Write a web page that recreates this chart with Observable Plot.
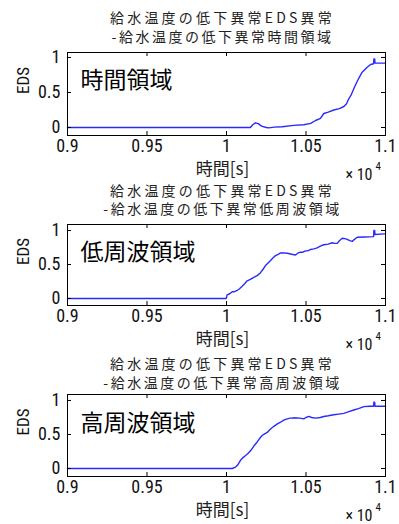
<!DOCTYPE html>
<html><head><meta charset="utf-8">
<script src="https://cdn.jsdelivr.net/npm/d3@7"></script>
<script src="https://cdn.jsdelivr.net/npm/@observablehq/plot@0.6"></script>
<style>
body{margin:0;background:#fff;}
#chart svg{display:block;}
</style>
</head><body><div id="chart"></div>
<script>
// ---- data ----
const timeTicks = [9000, 9500, 10000, 10500, 11000];
const timeTickLabels = ["0.9", "0.95", "1", "1.05", "1.1"];
const edsTicks = [0, 0.5, 1];
const edsTickLabels = ["0", "0.5", "1"];
const titleLine1 = "給水温度の低下異常EDS異常";
const titleLines2 = ["-給水温度の低下異常時間領域", "-給水温度の低下異常低周波領域", "-給水温度の低下異常高周波領域"];
const insetLabels = ["時間領域", "低周波領域", "高周波領域"];
const yLabel = "EDS";
const xLabel = "時間[s]";
const expLabel = "× 10";
const expPower = "4";

const timeA = [9000,10150,10165,10182,10200,10220,10250,10266,10300,10350,10423,10486,10530,10560,10591,10612,10640,10675,10710,10738,10755,10769,10785,10800,10822,10853,10885,10906,10925,10927,10932,10934,11000];
const edsA  = [0,0,0.04,0.067,0.055,0.02,0.0,-0.005,0.005,0.01,0.03,0.04,0.06,0.1,0.13,0.2,0.22,0.25,0.27,0.30,0.34,0.41,0.47,0.55,0.66,0.79,0.86,0.90,0.91,0.98,0.98,0.92,0.92];

const timeB = [9000,9998,10004,10020,10036,10050,10067,10080,10099,10115,10130,10150,10172,10195,10214,10230,10245,10260,10277,10293,10308,10325,10340,10360,10382,10410,10434,10450,10465,10480,10497,10510,10528,10550,10570,10590,10612,10640,10665,10680,10696,10710,10728,10745,10759,10775,10791,10805,10822,10870,10925,10927,10932,10934,10990,11000];
const edsB  = [0,0,0.054,0.07,0.10,0.10,0.118,0.14,0.18,0.22,0.26,0.28,0.31,0.34,0.38,0.43,0.485,0.52,0.56,0.60,0.63,0.65,0.67,0.67,0.665,0.65,0.64,0.67,0.68,0.68,0.70,0.70,0.72,0.73,0.745,0.77,0.79,0.80,0.82,0.81,0.81,0.85,0.885,0.88,0.87,0.85,0.84,0.87,0.90,0.905,0.91,1.0,1.0,0.94,0.95,0.95];

const timeC = [9000,10036,10057,10070,10088,10104,10120,10135,10151,10172,10193,10208,10224,10240,10256,10277,10298,10320,10340,10360,10382,10400,10423,10460,10486,10500,10518,10535,10560,10590,10612,10640,10675,10705,10738,10770,10800,10830,10864,10900,10925,10927,10932,10934,11000];
const edsC  = [0,0,0.02,0.05,0.12,0.16,0.19,0.22,0.26,0.33,0.39,0.44,0.485,0.51,0.53,0.58,0.62,0.655,0.68,0.71,0.73,0.74,0.745,0.74,0.73,0.75,0.765,0.75,0.74,0.75,0.765,0.775,0.79,0.80,0.81,0.835,0.86,0.88,0.91,0.915,0.915,0.975,0.975,0.915,0.915];

const series = [
  {t: timeA, e: edsA},
  {t: timeB, e: edsB},
  {t: timeC, e: edsC}
];

// ---- layout ----
const layouts = [
  {height: 175, mt: 52, mb: 40, yDomain: [-0.114, 1.071], tc: -26, inDy: 28},
  {height: 175, mt: 49, mb: 45, yDomain: [-0.103, 1.088], tc: -25.5, inDy: 28},
  {height: 174, mt: 44, mb: 48, yDomain: [-0.118, 1.088], tc: -22, inDy: 29}
];

const latin = "'Roboto Condensed', 'DejaVu Sans Condensed', sans-serif";
const cjk = "'Noto Sans CJK JP', sans-serif";

function panel(i) {
  const L = layouts[i];
  const S = series[i];
  const data = S.t.map((t, k) => ({t, e: S.e[k]}));
  const W = 399, ml = 67, mr = 14;
  const fw = W - ml - mr;
  const fh = L.height - L.mt - L.mb;
  const title = titleLine1 + "\n" + titleLines2[i];
  const svg = Plot.plot({
    width: W, height: L.height,
    marginLeft: ml, marginRight: mr, marginTop: L.mt, marginBottom: L.mb,
    style: {fontFamily: latin, fontSize: "18px", background: "#fff", color: "#000", overflow: "visible"},
    x: {domain: [9000, 11000], label: null},
    y: {domain: L.yDomain, label: null},
    marks: [
      Plot.line(data, {x: "t", y: "e", stroke: "#2a2aff", strokeWidth: 1.4}),
      Plot.tickX(timeTicks, {x: d => d, insetTop: fh - 4, stroke: "#000"}),
      Plot.tickX(timeTicks, {x: d => d, insetBottom: fh - 4, stroke: "#000"}),
      Plot.tickY(edsTicks, {y: d => d, insetRight: fw - 4, stroke: "#000"}),
      Plot.tickY(edsTicks, {y: d => d, insetLeft: fw - 4, stroke: "#000"}),
      Plot.frame({stroke: "#000", strokeWidth: 1}),
      Plot.axisX(timeTicks, {tickSize: 0, tickPadding: 4, label: null,
        tickFormat: d => timeTickLabels[timeTicks.indexOf(d)], fontSize: 18, fill: "#111"}),
      Plot.axisY(edsTicks, {tickSize: 0, tickPadding: 7, label: null,
        tickFormat: d => edsTickLabels[edsTicks.indexOf(d)], fontSize: 18, fill: "#111"}),
      Plot.text([yLabel], {text: d => d, frameAnchor: "left", dx: -44, rotate: -90, fontSize: 17, fill: "#111"}),
      Plot.text([title], {text: d => d, frameAnchor: "top", dx: -4, dy: L.tc, lineAnchor: "middle",
        lineHeight: 18.5 / 14, fontFamily: cjk, fontSize: 14, fill: "#222"}),
      Plot.text([insetLabels[i]], {text: d => d, frameAnchor: "top-left", dx: 13, dy: L.inDy,
        textAnchor: "start", lineAnchor: "middle", fontFamily: cjk, fontSize: 23, fill: "#000"}),
      Plot.text([xLabel], {text: d => d, frameAnchor: "bottom", dx: -4, dy: 34, lineAnchor: "middle",
        fontFamily: cjk, fontSize: 17, fill: "#222"}),
      Plot.text([expLabel], {text: d => d, frameAnchor: "bottom-right", dx: -13, dy: 44, textAnchor: "end",
        lineAnchor: "bottom", fontSize: 16, fill: "#111"}),
      Plot.text([expPower], {text: d => d, frameAnchor: "bottom-right", dx: -10, dy: 34, textAnchor: "start",
        lineAnchor: "bottom", fontSize: 11, fill: "#111"})
    ]
  });
  svg.querySelectorAll("text").forEach(t => {
    if (t.textContent.startsWith(titleLine1)) {
      const spans = t.querySelectorAll("tspan");
      if (spans.length === 2) {
        spans[0].style.letterSpacing = "3.2px";
        spans[1].style.letterSpacing = "2.5px";
      } else {
        t.style.letterSpacing = "2.8px";
      }
    }
  });
  return svg;
}

const root = document.getElementById("chart");
for (let i = 0; i < 3; i++) root.appendChild(panel(i));
</script>
</body></html>
